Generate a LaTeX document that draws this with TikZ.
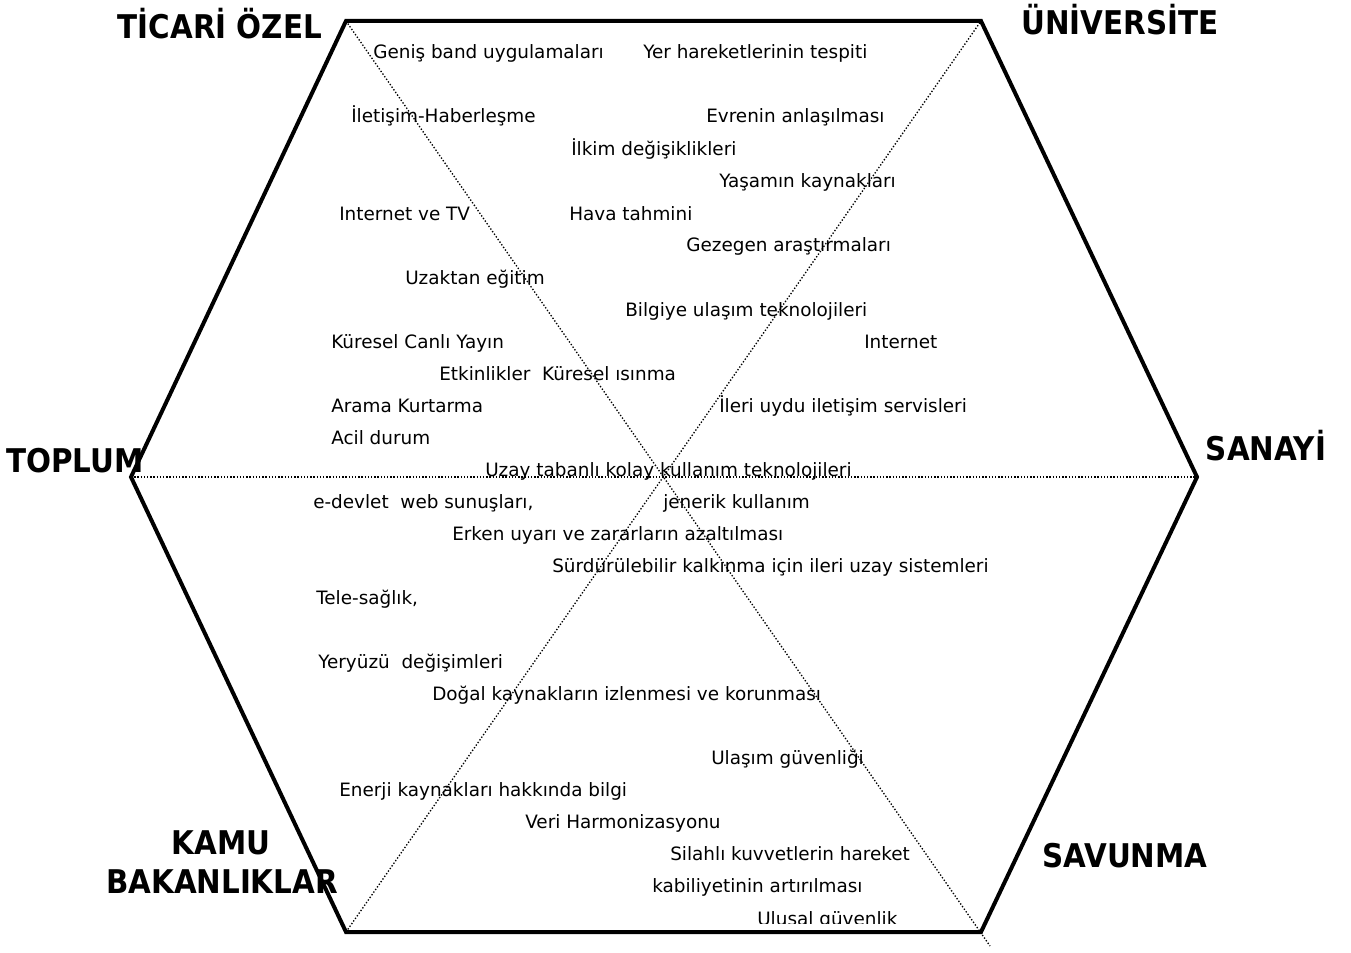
\documentclass[tikz,border=0pt]{standalone}
\usepackage{fontspec}
\setmainfont{DejaVu Sans Condensed}
\newfontfamily\entryfont{DejaVu Sans}
\usepackage{tikz}
\usetikzlibrary{positioning}

\begin{document}
\begin{tikzpicture}[x=0.75pt,y=-0.75pt,
  entry/.style={anchor=base west,inner sep=0pt,font=\entryfont\fontsize{13.8}{16}\selectfont},
  sector/.style={anchor=base,inner sep=0pt,font=\fontsize{24.5}{29}\selectfont\bfseries},
  rim/.style={line width=3pt,line join=miter},
  axis/.style={line width=1pt,dash pattern=on 1pt off 1.4pt}]
\useasboundingbox (0,0) rectangle (1351,952);

% hexagon corners
\coordinate (tl) at (346,21);
\coordinate (tr) at (981,21);
\coordinate (rt) at (1197,477);
\coordinate (br) at (981,932);
\coordinate (bl) at (346,932);
\coordinate (lf) at (131,477);
\coordinate (over) at (990,946);

% dotted axes
\draw[axis] (lf) -- (rt);
\draw[axis] (tl) -- (over);
\draw[axis] (bl) -- (tr);

% sectors
\node[sector] (ticari) at (220,39) {TİCARİ ÖZEL};
\node[sector] (univ) at (1120,35) {ÜNİVERSİTE};
\node[sector] (toplum) at (75,472) {TOPLUM};
\node[sector] (sanayi) at (1266,460) {SANAYİ};
\node[sector] (kamu) at (221,854) {KAMU};
\node[sector] (bakan) at (222,893) {BAKANLIKLAR};
\node[sector] (savunma) at (1125,867) {SAVUNMA};

% upper half
\node[entry] (genis) at (373,59) {Geniş band uygulamaları};
\node[entry] (yer) at (643,59) {Yer hareketlerinin tespiti};
\node[entry] (iletisim) at (351,123) {İletişim-Haberleşme};
\node[entry] (evren) at (706,123) {Evrenin anlaşılması};
\node[entry] (ilkim) at (571,156) {İlkim değişiklikleri};
\node[entry] (yasam) at (719,188) {Yaşamın kaynakları};
\node[entry] (inettv) at (339,220) {Internet ve TV};
\node[entry] (hava) at (569,220) {Hava tahmini};
\node[entry] (gezegen) at (686,252) {Gezegen araştırmaları};
\node[entry] (uzaktan) at (405,284) {Uzaktan eğitim};
\node[entry] (bilgi) at (625,316) {Bilgiye ulaşım teknolojileri};
\node[entry] (canli) at (331,348) {Küresel Canlı Yayın};
\node[entry] (inet) at (864,348) {Internet};
\node[entry] (etkin) at (439,380) {Etkinlikler\ \ Küresel ısınma};
\node[entry] (arama) at (331,412) {Arama Kurtarma};
\node[entry] (uydu) at (719,412) {İleri uydu iletişim servisleri};
\node[entry] (acil) at (331,444) {Acil durum};

% lower half
\node[entry] (kolay) at (485,476) {Uzay tabanlı kolay kullanım teknolojileri};
\node[entry] (edevlet) at (313,508) {e-devlet\ \ web sunuşları,};
\node[entry] (jenerik) at (663,508) {jenerik kullanım};
\node[entry] (erken) at (452,540) {Erken uyarı ve zararların azaltılması};
\node[entry] (surdur) at (552,572) {Sürdürülebilir kalkınma için ileri uzay sistemleri};
\node[entry] (tele) at (316,604) {Tele-sağlık,};
\node[entry] (yeryuzu) at (318,668) {Yeryüzü\ \ değişimleri};
\node[entry] (dogal) at (432,700) {Doğal kaynakların izlenmesi ve korunması};
\node[entry] (ulasim) at (711,764) {Ulaşım güvenliği};
\node[entry] (enerji) at (339,796) {Enerji kaynakları hakkında bilgi};
\node[entry] (veri) at (525,828) {Veri Harmonizasyonu};
\node[entry] (silahli) at (670,860) {Silahlı kuvvetlerin hareket};
\node[entry] (kabil) at (652,892) {kabiliyetinin artırılması};
\begin{scope}
\clip (0,0) rectangle (1351,923);
\node[entry] (ulusal) at (757,925) {Ulusal güvenlik};
\end{scope}

% frame
\draw[rim] (tl) -- (tr) -- (rt) -- (br) -- (bl) -- (lf) -- cycle;
\end{tikzpicture}
\end{document}
